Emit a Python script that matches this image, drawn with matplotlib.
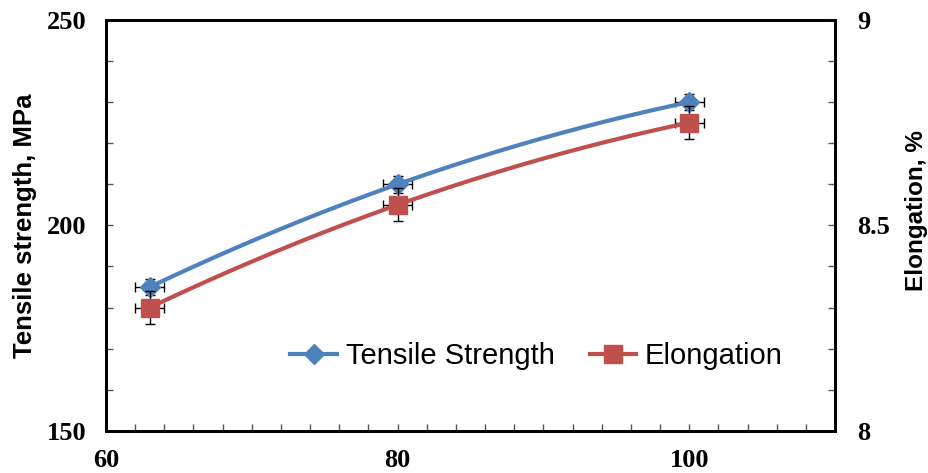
import matplotlib
matplotlib.use("Agg")
import matplotlib.pyplot as plt
import numpy as np
from matplotlib.ticker import MultipleLocator

# data
x_vals = [63, 80, 100]
tensile = [185, 210, 230]
tensile_yerr = [2, 2, 2]
elongation = [8.30, 8.55, 8.75]
elong_yerr = [0.04, 0.04, 0.04]
x_err = [1, 1, 1]

blue = "#4F81BD"
red = "#C0504D"
serif = "Liberation Serif"
sans = "Liberation Sans"


def smooth(x, y):
    # smooth display curve through the measured points (like Excel's smoothed line)
    xs = np.union1d(np.linspace(x[0], x[-1], 200), x)
    coef = np.polyfit(x, y, len(x) - 1)
    return xs, np.polyval(coef, xs), list(np.searchsorted(xs, x))


fig = plt.figure(figsize=(9.29, 4.73), dpi=100)
ax = fig.add_axes([0.114, 0.089, 0.785, 0.869])
ax2 = ax.twinx()

xs, ys, idx = smooth(x_vals, tensile)
ax.errorbar(x_vals, tensile, yerr=tensile_yerr, xerr=x_err, fmt="none",
            ecolor="black", elinewidth=1, capsize=3.5, capthick=1, zorder=3)
l1, = ax.plot(xs, ys, color=blue, lw=3, marker="D", markersize=10,
              markevery=idx, label="Tensile Strength", zorder=4)

xs2, ys2, idx2 = smooth(x_vals, elongation)
ax2.errorbar(x_vals, elongation, yerr=elong_yerr, xerr=x_err, fmt="none",
             ecolor="black", elinewidth=1, capsize=3.5, capthick=1, zorder=3)
l2, = ax2.plot(xs2, ys2, color=red, lw=3, marker="s", markersize=13.5,
               markevery=idx2, label="Elongation", zorder=4)

ax.set_xlim(60, 110)
ax.set_ylim(150, 250)
ax2.set_ylim(8, 9)

ax.xaxis.set_major_locator(MultipleLocator(20))
ax.xaxis.set_minor_locator(MultipleLocator(2))
ax.yaxis.set_major_locator(MultipleLocator(50))
ax.yaxis.set_minor_locator(MultipleLocator(10))
ax2.yaxis.set_major_locator(MultipleLocator(0.5))
ax2.yaxis.set_minor_locator(MultipleLocator(0.1))
ax2.yaxis.set_major_formatter(plt.FuncFormatter(lambda v, p: f"{v:g}"))

for a in (ax, ax2):
    a.tick_params(which="both", direction="in", length=5, width=1, color="#555555")
    for s in a.spines.values():
        s.set_linewidth(2)
        s.set_color("black")

ax.tick_params(axis="x", which="both", top=False, pad=13)
ax.tick_params(axis="y", which="both", right=False, pad=14)
ax2.tick_params(axis="y", which="both", pad=16)

for lab in ax.get_xticklabels() + ax.get_yticklabels() + ax2.get_yticklabels():
    lab.set_fontfamily(serif)
    lab.set_fontweight("bold")
    lab.set_fontsize(19)

ax.set_ylabel("Tensile strength, MPa", fontfamily=sans, fontweight="bold",
              fontsize=18.5, labelpad=7)
ax2.set_ylabel("Elongation, %", fontfamily=sans, fontweight="bold",
               fontsize=17.5)
ax2.yaxis.set_label_coords(1.096, 0.535)

ax2.legend(handles=[l1, l2], loc="center left", bbox_to_anchor=(0.217, 0.182),
           ncol=2, frameon=False, handlelength=1.6, handletextpad=0.3,
           columnspacing=1.2, prop={"family": sans, "size": 21})

fig.savefig("out.png", dpi=100)
